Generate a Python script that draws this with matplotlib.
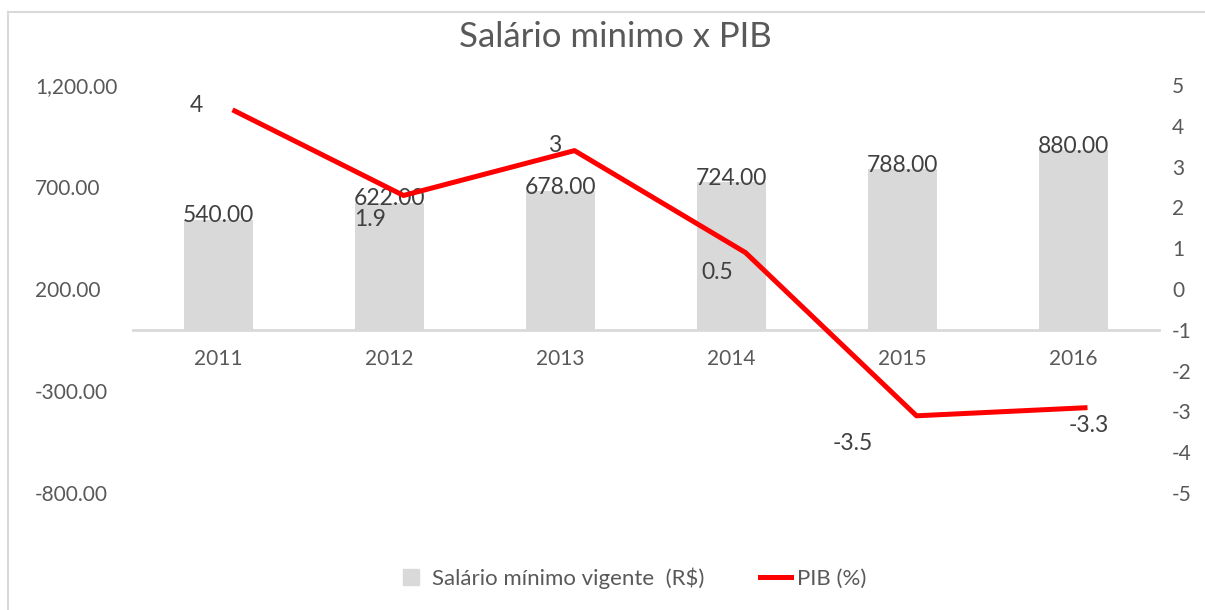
'''
Salário mínimo x PIB - barras (R$) com linha do PIB (%) no eixo secundário
'''
import matplotlib
matplotlib.use('Agg')
import matplotlib.pyplot as plt
import matplotlib.transforms as mtransforms
from matplotlib.lines import Line2D

anos = ['2011', '2012', '2013', '2014', '2015', '2016']
salario = [540, 622, 678, 724, 788, 880]
pib = [4, 1.9, 3, 0.5, -3.5, -3.3]
ticks_salario = [-800, -300, 200, 700, 1200]
ticks_pib = [-5, -4, -3, -2, -1, 0, 1, 2, 3, 4, 5]

cinza_txt = '#595959'
cinza_barra = '#d9d9d9'

plt.rcParams['font.family'] = ['Lato', 'DejaVu Sans']

W, H = 1205, 610
fig = plt.figure(figsize=(W / 100, H / 100), dpi=100)
ax = fig.add_axes([133 / W, 1 - 493 / H, (1159 - 133) / W, (493 - 85) / H])

x = list(range(len(anos)))
ax.bar(x, salario, width=0.4, color=cinza_barra, zorder=1)
ax.set_xlim(-0.5, len(anos) - 0.5)
ax.set_ylim(-800, 1200)
ax.set_yticks(ticks_salario)
ax.set_yticklabels(['{:,.2f}'.format(v) for v in ticks_salario])
ax.set_xticks(x)
ax.set_xticklabels(anos)

for s in ['top', 'left', 'right']:
    ax.spines[s].set_visible(False)
ax.spines['bottom'].set_position(('data', 0))
ax.spines['bottom'].set_color(cinza_barra)
ax.spines['bottom'].set_linewidth(2)
ax.tick_params(axis='x', length=0, pad=14, labelsize=15, labelcolor=cinza_txt)
ax.tick_params(axis='y', length=0, pad=70.6, labelsize=15, labelcolor=cinza_txt)
plt.setp(ax.get_yticklabels(), ha='left')

# rótulos das barras
for i, v in zip(x, salario):
    ax.annotate('{:,.2f}'.format(v), xy=(i, v), xytext=(0, 4), textcoords='offset pixels',
                ha='center', va='center', fontsize=16.5, color='#404040')

# eixo secundário - PIB
ax2 = ax.twinx()
ax2.set_ylim(-5, 5)
ax2.set_yticks(ticks_pib)
ax2.set_yticklabels([str(v) for v in ticks_pib])
for s in ax2.spines.values():
    s.set_visible(False)
ax2.tick_params(axis='y', length=0, pad=9.4, labelsize=15, labelcolor=cinza_txt)

# a linha aparece deslocada no original
trans = mtransforms.offset_copy(ax2.transData, fig=fig, x=14, y=16, units='dots')
ax2.plot(x, pib, color='#ff0000', lw=3.6, transform=trans, solid_capstyle='butt')

desloc = [(-36, 4), (-33, -24), (-20, 5), (-28, -20), (-64, -28), (1, -18)]
for i, v, d in zip(x, pib, desloc):
    ax2.annotate('{:g}'.format(v), xy=(i, v), xycoords=trans, xytext=d,
                 textcoords='offset pixels', ha='center', va='center',
                 fontsize=16.5, color='#404040')

fig.text(615 / W, 1 - 37 / H, 'Salário minimo x PIB', ha='center', va='center',
         fontsize=25, color=cinza_txt)

handles = [Line2D([], [], marker='s', ls='', markersize=12, color=cinza_barra,
                  label='Salário mínimo vigente  (R$)'),
           Line2D([], [], color='#ff0000', lw=3.6, label='PIB (%)')]
fig.legend(handles=handles, loc='center', bbox_to_anchor=(631 / W, 1 - 578 / H), ncol=2,
           frameon=False, fontsize=16, labelcolor=cinza_txt, handlelength=1.4,
           handletextpad=0.25, columnspacing=2.5)

# borda da área do gráfico
fig.add_artist(Line2D([8 / W, 8 / W], [0, 1 - 12 / H], color=cinza_barra, lw=1.5,
                      transform=fig.transFigure))
fig.add_artist(Line2D([8 / W, 1], [1 - 12 / H, 1 - 12 / H], color=cinza_barra, lw=1.5,
                      transform=fig.transFigure))

fig.savefig('out.png', dpi=100)
